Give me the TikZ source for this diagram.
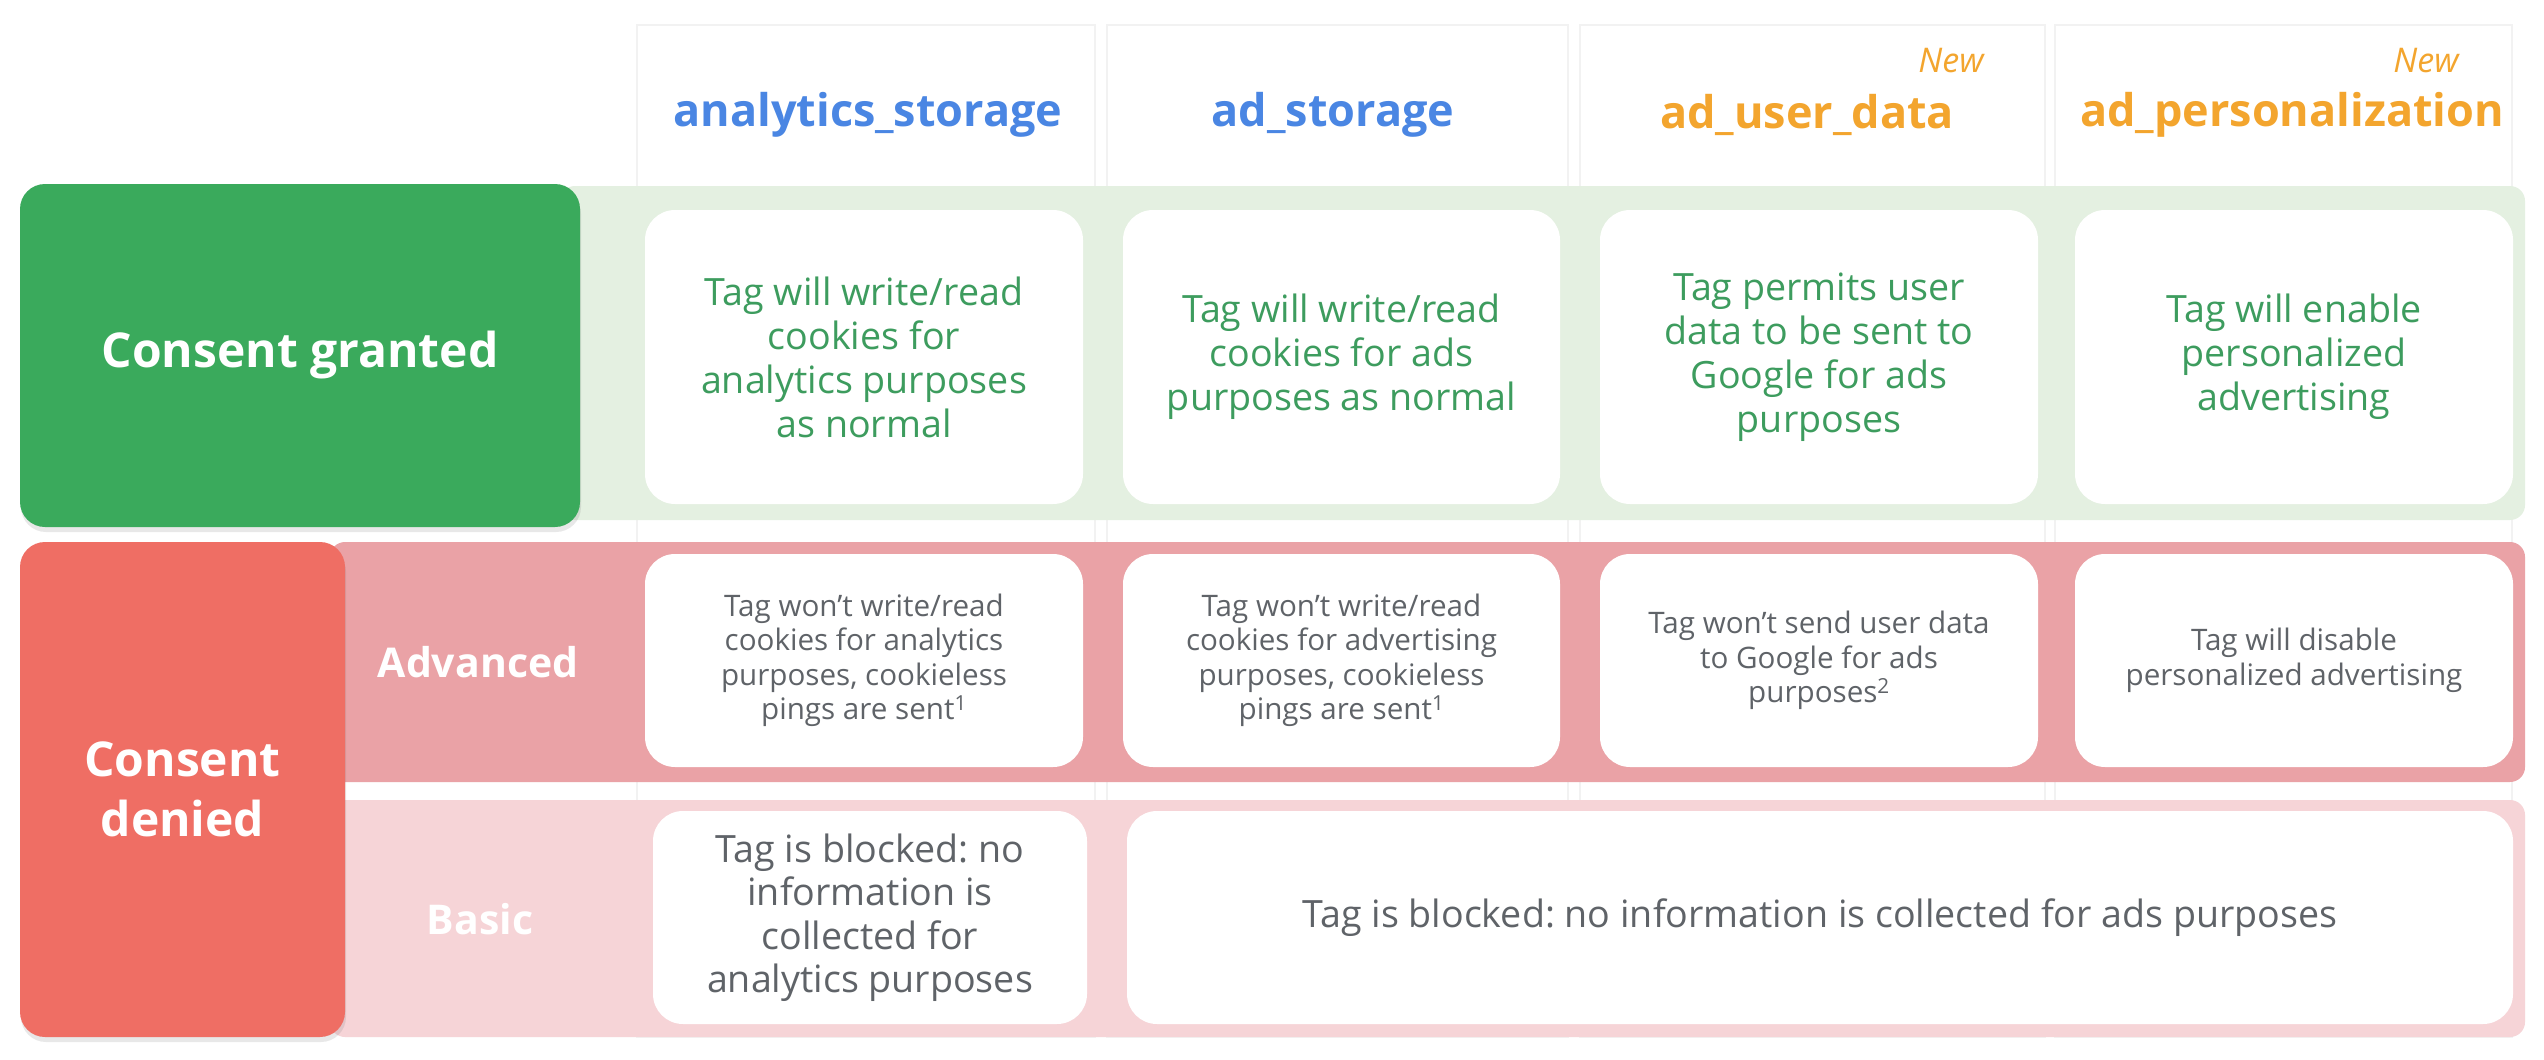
\documentclass[tikz,border=0pt]{standalone}
\usepackage{fontspec}
\setmainfont{Open Sans}
\usetikzlibrary{shadows}
\definecolor{ggreen}{HTML}{3AAA5C}
\definecolor{gband}{HTML}{E4F0E1}
\definecolor{gtext}{HTML}{3D9C5E}
\definecolor{rred}{HTML}{EF6E64}
\definecolor{advband}{HTML}{EAA2A6}
\definecolor{basband}{HTML}{F6D4D7}
\definecolor{graytext}{HTML}{5F6368}
\definecolor{hblue}{HTML}{4A86E3}
\definecolor{horange}{HTML}{F3A52E}
\definecolor{gridc}{HTML}{F2F2F2}
\frenchspacing
\begin{document}
\begin{tikzpicture}[x=1pt,y=-1pt,
  box/.style={rectangle, inner sep=0pt, outer sep=0pt, align=center},
  headcol/.style={box, fill=white, draw=gridc, line width=1.5pt},
  headtxt/.style={font=\bfseries\fontsize{45}{54}\selectfont},
  newtxt/.style={font=\itshape\fontsize{34}{40}\selectfont, text=horange},
  bigbox/.style={box, rounded corners=25pt, font=\bfseries\fontsize{48}{60}\selectfont, text=white,
    drop shadow={opacity=0.18, shadow xshift=1pt, shadow yshift=-5pt}},
  band/.style={box, rounded corners=15pt},
  cell/.style={box, fill=white, rounded corners=30pt},
  gcell/.style={cell, text=gtext, font=\fontsize{37.6}{44}\selectfont},
  acell/.style={cell, text=graytext, font=\fontsize{29.6}{34.5}\selectfont},
  bcell/.style={cell, text=graytext, font=\fontsize{37.6}{43.5}\selectfont},
  sublabel/.style={font=\bfseries\fontsize{41}{50}\selectfont, text=white}
]
\useasboundingbox (0,0) rectangle (2544,1060);
\fill[white] (0,0) rectangle (2544,1060);

% header columns (faint grid)
\node[headcol, minimum width=458pt, minimum height=1012pt] (h1) at (866,531) {};
\node[headcol, minimum width=461pt, minimum height=1012pt] (h2) at (1337.5,531) {};
\node[headcol, minimum width=465pt, minimum height=1012pt] (h3) at (1812.5,531) {};
\node[headcol, minimum width=457pt, minimum height=1012pt] (h4) at (2283.5,531) {};

\node[headtxt, text=hblue] (t1) at (868,115) {analytics\_storage};
\node[headtxt, text=hblue] (t2) at (1333,115) {ad\_storage};
\node[headtxt, text=horange] (t3) at (1807,115) {ad\_user\_data};
\node[headtxt, text=horange] (t4) at (2292,115) {ad\_personalization};
\node[newtxt] (n3) at (1951,61) {New};
\node[newtxt] (n4) at (2426,61) {New};

% granted row
\node[band, fill=gband, minimum width=1965pt, minimum height=334pt] (gb) at (1542.5,353) {};
\node[bigbox, fill=ggreen, minimum width=560pt, minimum height=343pt] (cg) at (300,355.5) {Consent granted};
\node[gcell, minimum width=438pt, minimum height=294pt] (g1) at (864,357) {Tag will write/read\\cookies for\\analytics purposes\\as normal};
\node[gcell, minimum width=437pt, minimum height=294pt] (g2) at (1341.5,357) {Tag will write/read\\cookies for ads\\purposes as normal};
\node[gcell, minimum width=438pt, minimum height=294pt] (g3) at (1819,357) {Tag permits user\\data to be sent to\\Google for ads\\purposes};
\node[gcell, minimum width=438pt, minimum height=294pt] (g4) at (2294,357) {Tag will enable\\personalized\\advertising};

% denied rows
\node[band, fill=advband, minimum width=2195pt, minimum height=240pt] (ab) at (1427.5,662) {};
\node[band, fill=basband, minimum width=2195pt, minimum height=237pt] (bb) at (1427.5,918.5) {};
\node[bigbox, fill=rred, minimum width=325pt, minimum height=495pt] (cd) at (182.5,789.5) {Consent\\denied};
\node[sublabel] (adv) at (478,662) {Advanced};
\node[sublabel] (bas) at (480,919) {Basic};

\node[acell, minimum width=438pt, minimum height=213pt] (a1) at (864,660.5) {Tag won’t write/read\\cookies for analytics\\purposes, cookieless\\pings are sent\textsuperscript{1}};
\node[acell, minimum width=437pt, minimum height=213pt] (a2) at (1341.5,660.5) {Tag won’t write/read\\cookies for advertising\\purposes, cookieless\\pings are sent\textsuperscript{1}};
\node[acell, minimum width=438pt, minimum height=213pt] (a3) at (1819,660.5) {Tag won’t send user data\\to Google for ads\\purposes\textsuperscript{2}};
\node[acell, minimum width=438pt, minimum height=213pt] (a4) at (2294,660.5) {Tag will disable\\personalized advertising};

\node[bcell, minimum width=434pt, minimum height=213pt] (b1) at (870,917.5) {Tag is blocked: no\\information is\\collected for\\analytics purposes};
\node[bcell, minimum width=1386pt, minimum height=213pt] (b2) at (1820,917.5) {Tag is blocked: no information is collected for ads purposes};
\end{tikzpicture}
\end{document}
